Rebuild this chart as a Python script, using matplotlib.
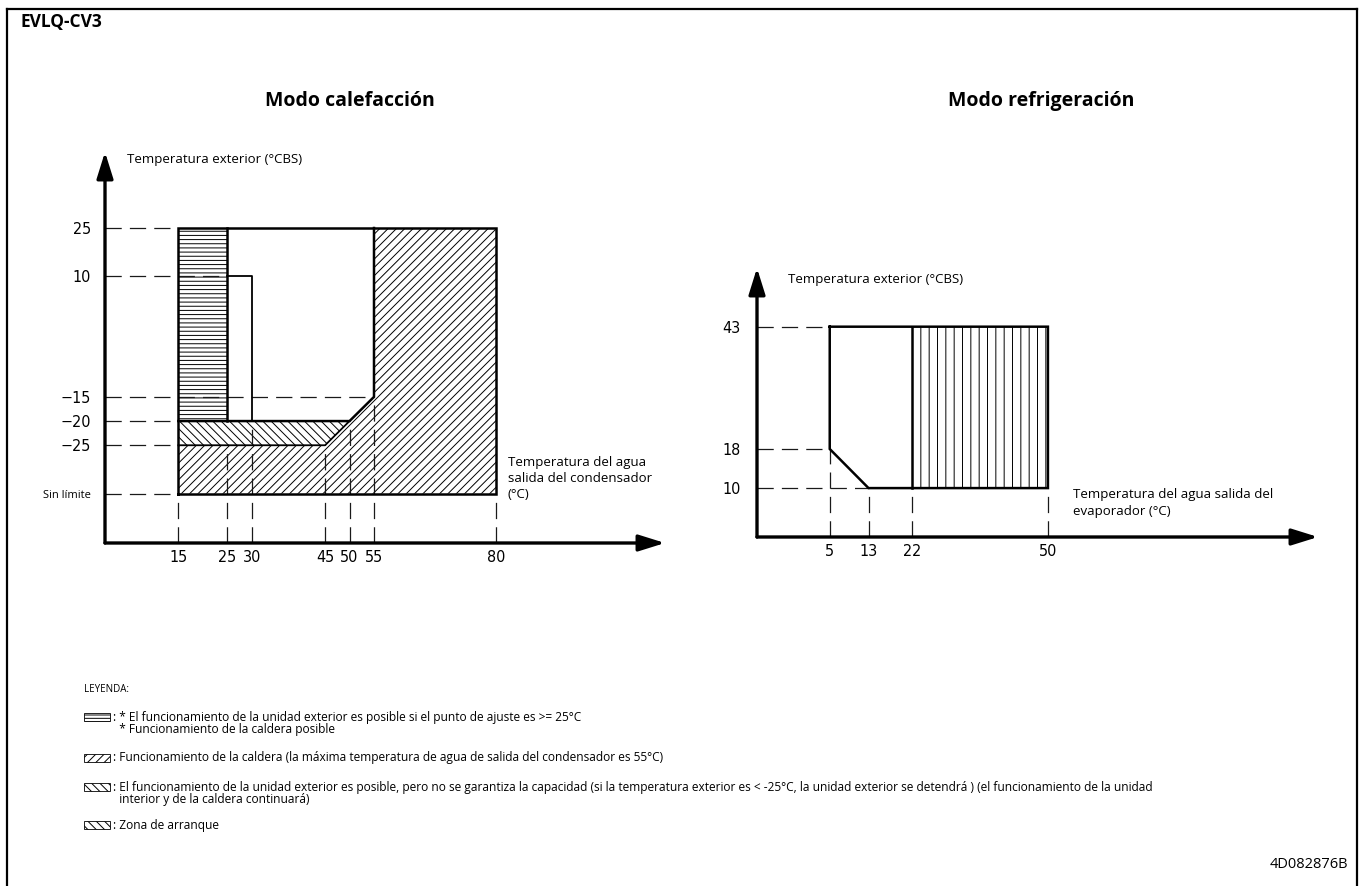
import numpy as np
import matplotlib
matplotlib.use('Agg')
import matplotlib.pyplot as plt
from matplotlib.patches import Polygon, Rectangle
from matplotlib.lines import Line2D

plt.rcParams['font.family'] = ['Open Sans', 'DejaVu Sans']
plt.rcParams['hatch.linewidth'] = 0.7

W, H = 1360, 886
TICK_FONT = ['Liberation Sans Narrow', 'DejaVu Sans']

# ---- heating mode (modo calefaccion) ----
heat_x_ticks = [15, 25, 30, 45, 50, 55, 80]
heat_y_ticks = [25, 10, -15, -20, -25, -35]
heat_y_labels = ['25', '10', '\u221215', '\u221220', '\u221225', 'Sin límite']

heat_env_x = [15, 80, 80, 15, 15]
heat_env_y = [-35, -35, 25, 25, -35]
# outdoor unit ok if set point >= 25
heat_horiz_x = [15, 25, 25, 15]
heat_horiz_y = [-20, -20, 25, 25]
# boiler operation
heat_boiler_x = [15, 80, 80, 55, 55, 45, 15]
heat_boiler_y = [-35, -35, 25, 25, -15, -25, -25]
# capacity not guaranteed
heat_cap_x = [15, 45, 50, 15]
heat_cap_y = [-25, -25, -20, -20]
# upper limit line of the heat pump zone
heat_limit_x = [15, 50, 55, 55]
heat_limit_y = [-20, -20, -15, 25]
heat_low_x = [15, 45, 50]
heat_low_y = [-25, -25, -20]
# start-up zone edge
heat_start_x = [25, 30, 30]
heat_start_y = [10, 10, -20]
# guide lines: horizontal ends / vertical tops
heat_guide_h_end = [15, 25, 55, 15, 15, 15]
heat_guide_v_top = [-35, -25, -20, -25, -20, -15, -35]

# ---- cooling mode (modo refrigeracion) ----
cool_x_ticks = [5, 13, 22, 50]
cool_y_ticks = [43, 18, 10]
cool_env_x = [5, 50, 50, 13, 5, 5]
cool_env_y = [43, 43, 10, 10, 18, 43]
cool_vert_x = [22, 50, 50, 22]
cool_vert_y = [10, 10, 43, 43]
cool_guide_h_end = [5, 5, 13]
cool_guide_v_top = [18, 10, 10, 10]


def fpos(x, y):
    return x / W, 1 - y / H


def y_fwd(y):
    y = np.asarray(y, dtype=float)
    return np.where(y > 10, 10 + (y - 10) * 0.66, y)


def y_inv(t):
    t = np.asarray(t, dtype=float)
    return np.where(t > 10, 10 + (t - 10) / 0.66, t)


def axis_arrows(ax):
    style = '-|>,head_length=0.8,head_width=0.25'
    kw = dict(arrowstyle=style, lw=2.4, color='black', mutation_scale=20,
              shrinkA=0, shrinkB=0)
    ax.annotate('', xy=(0, 1), xytext=(0, 0), xycoords='axes fraction',
                arrowprops=kw)
    ax.annotate('', xy=(1, 0), xytext=(0, 0), xycoords='axes fraction',
                arrowprops=kw)


def style_axes(ax, xpad, ypad):
    for s in ax.spines.values():
        s.set_visible(False)
    ax.patch.set_alpha(0)
    ax.tick_params(length=0, labelsize=11.5)
    ax.tick_params(axis='x', pad=xpad)
    ax.tick_params(axis='y', pad=ypad)
    for lab in ax.get_xticklabels() + ax.get_yticklabels():
        lab.set_fontfamily(TICK_FONT)
        lab.set_fontstretch('condensed')


dash = dict(color='#1a1a1a', lw=0.9, dashes=(13, 6.5))
thick = dict(color='black', lw=1.8, solid_joinstyle='miter')

fig = plt.figure(figsize=(W / 100, H / 100), dpi=100)

# heating chart
ax1 = fig.add_axes([105 / W, (H - 543) / H, 560 / W, (543 - 152) / H])
ax1.set_yscale('function', functions=(y_fwd, y_inv))
ax1.set_xlim(0, 114.5)
ax1.set_ylim(-45.2, 48.8)

ax1.add_patch(Polygon(np.column_stack([heat_boiler_x, heat_boiler_y]),
                      facecolor='none', edgecolor='black', lw=0, hatch='////'))
ax1.add_patch(Polygon(np.column_stack([heat_cap_x, heat_cap_y]),
                      facecolor='none', edgecolor='black', lw=0, hatch='\\\\\\\\'))
ax1.add_patch(Polygon(np.column_stack([heat_horiz_x, heat_horiz_y]),
                      facecolor='white', edgecolor='black', lw=0, hatch='----'))

y_bottom = ax1.get_ylim()[0]
for yv, xe in zip(heat_y_ticks, heat_guide_h_end):
    ax1.plot([0, xe], [yv, yv], **dash)
for xv, yt in zip(heat_x_ticks, heat_guide_v_top):
    ax1.plot([xv, xv], [y_bottom, yt], **dash)

ax1.plot(heat_env_x, heat_env_y, **thick)
ax1.plot([25, 25], [-20, 25], **thick)
ax1.plot(heat_limit_x, heat_limit_y, **thick)
ax1.plot(heat_low_x, heat_low_y, color='black', lw=1.3)
ax1.plot(heat_start_x, heat_start_y, color='black', lw=1.3)

ax1.set_xticks(heat_x_ticks)
ax1.set_yticks(heat_y_ticks, heat_y_labels)
style_axes(ax1, 5, 10)
sl = ax1.get_yticklabels()[-1]
sl.set_fontfamily(['Open Sans', 'DejaVu Sans'])
sl.set_fontstretch('normal')
sl.set_fontsize(8)
axis_arrows(ax1)

# cooling chart
ax2 = fig.add_axes([757 / W, (H - 537) / H, 561 / W, (537 - 268) / H])
ax2.set_xlim(-10, 105.7)
ax2.set_ylim(0, 55)

ax2.add_patch(Polygon(np.column_stack([cool_vert_x, cool_vert_y]),
                      facecolor='none', edgecolor='black', lw=0, hatch='||'))
for yv, xe in zip(cool_y_ticks, cool_guide_h_end):
    ax2.plot([-10, xe], [yv, yv], **dash)
for xv, yt in zip(cool_x_ticks, cool_guide_v_top):
    ax2.plot([xv, xv], [0, yt], **dash)
ax2.plot(cool_env_x, cool_env_y, **thick)
ax2.plot([22, 22], [10, 43], **thick)

ax2.set_xticks(cool_x_ticks)
ax2.set_yticks(cool_y_ticks)
style_axes(ax2, 5, 12)
axis_arrows(ax2)

# titles and axis captions
fig.text(*fpos(20, 22), 'EVLQ-CV3', fontsize=12.5, fontweight='bold', va='center')
fig.text(*fpos(265, 101), 'Modo calefacción', fontsize=14, fontweight='bold', va='center')
fig.text(*fpos(948, 101), 'Modo refrigeración', fontsize=14, fontweight='bold', va='center')
fig.text(*fpos(127, 160), 'Temperatura exterior (°CBS)', fontsize=9.5, va='center')
fig.text(*fpos(788, 280), 'Temperatura exterior (°CBS)', fontsize=9.5, va='center')
fig.text(*fpos(508, 456), 'Temperatura del agua\nsalida del condensador\n(°C)',
         fontsize=9.5, va='top', linespacing=1.3)
fig.text(*fpos(1073, 488), 'Temperatura del agua salida del\nevaporador (°C)',
         fontsize=9.5, va='top', linespacing=1.35)

# legend
fig.text(*fpos(84, 690), 'LEYENDA:', fontsize=7, va='center')
legend_rows = [
    (717, '-----', [': * El funcionamiento de la unidad exterior es posible si el punto de ajuste es >= 25°C',
                    '  * Funcionamiento de la caldera posible']),
    (758, '////', [': Funcionamiento de la caldera (la máxima temperatura de agua de salida del condensador es 55°C)']),
    (787, '\\\\\\\\', [': El funcionamiento de la unidad exterior es posible, pero no se garantiza la capacidad '
                       '(si la temperatura exterior es < -25°C, la unidad exterior se detendrá ) '
                       '(el funcionamiento de la unidad',
                       '  interior y de la caldera continuará)']),
    (825, '\\\\\\\\', [': Zona de arranque']),
]
for yc, hatch, lines in legend_rows:
    fig.add_artist(Rectangle(fpos(84, yc + 4), 26 / W, 8 / H, transform=fig.transFigure,
                             facecolor='white', edgecolor='black', lw=0.6, hatch=hatch))
    for i, txt in enumerate(lines):
        fig.text(*fpos(113, yc + i * 12), txt, fontsize=8.55, va='center')

fig.text(*fpos(1348, 864), '4D082876B', fontsize=10.5, va='center', ha='right')

# sheet frame
fr = dict(color='black', lw=1.6, transform=fig.transFigure)
fig.add_artist(Line2D([7 / W, 7 / W], [0, 1 - 9 / H], **fr))
fig.add_artist(Line2D([7 / W, 1357 / W], [1 - 9 / H, 1 - 9 / H], **fr))
fig.add_artist(Line2D([1357 / W, 1357 / W], [1 - 9 / H, 0], **fr))

fig.savefig('out.png', dpi=100)
